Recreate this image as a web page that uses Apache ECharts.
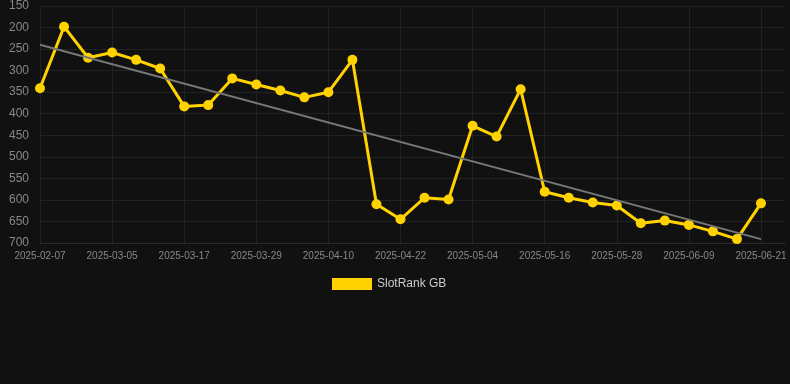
<!DOCTYPE html>
<html><head><meta charset="utf-8">
<script src="https://cdn.jsdelivr.net/npm/echarts@6/dist/echarts.min.js"></script>
<style>html,body{margin:0;padding:0;background:#111111;}#c{width:790px;height:384px;}</style>
</head><body><div id="c"></div>
<script>
const categories = ['2025-02-07','2025-02-25','2025-03-01','2025-03-05','2025-03-09','2025-03-13','2025-03-17','2025-03-21','2025-03-25','2025-03-29','2025-04-02','2025-04-06','2025-04-10','2025-04-14','2025-04-18','2025-04-22','2025-04-26','2025-04-30','2025-05-04','2025-05-08','2025-05-12','2025-05-16','2025-05-20','2025-05-24','2025-05-28','2025-06-01','2025-06-05','2025-06-09','2025-06-13','2025-06-17','2025-06-21','2025-06-25'];
const rankValues = [341,198,270,258,275,295,383,380,318,332,346,362,350,275,610,645,595,599,428,453,343,581,595,606,613,654,648,658,673,691,608];
const trendStart = 240;
const trendEnd = 691;
const seriesName = 'SlotRank GB';

const chart = echarts.init(document.getElementById('c'));
chart.setOption({
  backgroundColor: '#111111',
  animation: false,
  grid: {left: 40, right: 5, top: 6, bottom: 141},
  legend: {
    data: [{name: seriesName, icon: 'rect'}],
    top: 273, left: 327,
    itemWidth: 40, itemHeight: 12, itemGap: 10,
    textStyle: {color: '#cccccc', fontSize: 12, fontFamily: 'Liberation Sans, Arial, sans-serif'}
  },
  xAxis: {
    type: 'category', data: categories, boundaryGap: false,
    axisLine: {lineStyle: {color: '#2a2a2a'}},
    axisTick: {show: false},
    axisLabel: {interval: 2, color: '#888888', fontSize: 10, margin: 8, fontFamily: 'Liberation Sans, Arial, sans-serif'},
    splitLine: {show: true, interval: 2, lineStyle: {color: '#222222'}}
  },
  yAxis: {
    type: 'value', inverse: true, min: 150, max: 700, interval: 50,
    axisLine: {show: false}, axisTick: {show: false},
    axisLabel: {color: '#888888', fontSize: 12, margin: 11, fontFamily: 'Liberation Sans, Arial, sans-serif'},
    splitLine: {lineStyle: {color: '#222222'}}
  },
  series: [{
    name: seriesName, type: 'line', data: rankValues,
    color: '#FFD200',
    lineStyle: {width: 3, color: '#FFD200'},
    itemStyle: {color: '#FFD200'},
    symbol: 'circle', symbolSize: 10,
    markLine: {
      silent: true, symbol: 'none', label: {show: false},
      lineStyle: {color: '#777777', width: 2, type: 'solid'},
      data: [[{coord: [0, trendStart]}, {coord: [rankValues.length - 1, trendEnd]}]]
    },
    z: 3
  }]
});
</script></body></html>
